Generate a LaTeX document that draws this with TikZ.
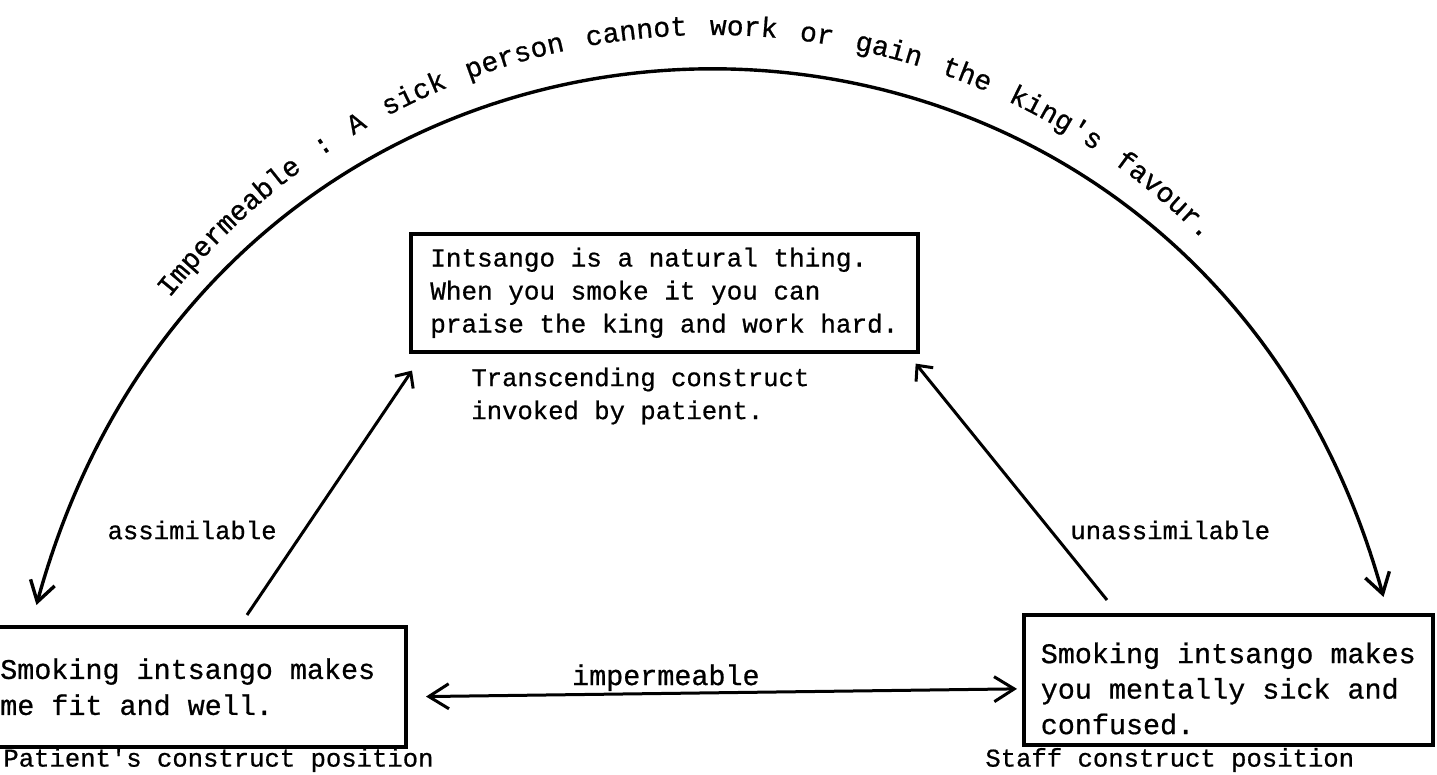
\documentclass[tikz,border=0pt]{standalone}
\usepackage{fontspec}
\usepackage{tikz}
\usetikzlibrary{arrows.meta, decorations.text}
\newfontfamily\typefont[FakeBold=0.7]{Liberation Mono}
\newcommand{\arcfont}{\typefont\fontsize{14}{16}\selectfont}

\begin{document}
\begin{tikzpicture}[x=0.5pt, y=-0.5pt,
            box/.style={draw, line width=1.8pt, rectangle, align=left, inner ysep=4pt},
            boxtext/.style={font=\typefont\fontsize{14.2}{#1}\selectfont},
            lbl/.style={inner sep=0pt, align=left, font=\typefont\fontsize{12.8}{16.5}\selectfont},
            link/.style={line width=1.5pt, -{Straight Barb[length=6pt, width=11pt]}},
            barb/.style={line width=1.7pt, {Straight Barb[length=10pt, width=12.5pt]}-{Straight Barb[length=10pt, width=12.5pt]}}]
    \useasboundingbox (0,0) rectangle (1437,775);

    % the three construct boxes
    \node[box, anchor=north west, minimum height=59pt, inner xsep=9.75pt,
          font=\typefont\fontsize{13}{16.5}\selectfont] (natural) at (409,232)
          {Intsango is a natural thing.\\When you smoke it you can\\praise the king and work hard.};
    \node[box, boxtext=18, anchor=north east, minimum height=60pt, inner xsep=15.5pt] (patient) at (408,625)
          {Smoking intsango makes\\me fit and well.};
    \node[box, boxtext=17.75, anchor=north west, minimum height=65pt, inner xsep=8.5pt] (staff) at (1022,613)
          {\rule{0pt}{19pt}Smoking intsango makes\\you mentally sick and\\confused.};

    % captions
    \node[lbl, anchor=west] (transc) at (471,396) {Transcending construct\\invoked by patient.};
    \node[lbl, anchor=west] (patlbl) at (3,760) {Patient's construct position};
    \node[lbl, anchor=west] (stafflbl) at (985,760) {Staff construct position};
    \node[lbl, anchor=east] (assim) at (277,530) {assimilable};
    \node[lbl, anchor=west] (unassim) at (1070,530) {unassimilable};

    \draw[link] ([xshift=-80.5pt, yshift=5pt]patient.north east) -- ([xshift=1.5pt, yshift=-8.5pt]natural.south west);
    \draw[link] ([xshift=42.5pt, yshift=6.5pt]staff.north west) -- ([xshift=-2pt, yshift=-5pt]natural.south east);
    \draw[barb, line width=1.5pt, shorten <=9pt, shorten >=2.5pt]
        ([yshift=-5pt]patient.east) -- node[boxtext=16, pos=0.42, above, inner sep=0.5pt] (imperm) {impermeable}
        ([yshift=-4.5pt]staff.west);

    % big arch over everything
    \draw[barb] ([xshift=34.5pt, yshift=10pt]patient.north west)
        .. controls (232,-107) and (1188,-107) .. ([xshift=-25.5pt, yshift=8pt]staff.north east);
    \path[decorate, decoration={text along path,
            text={|\arcfont|Impermeable : A sick person cannot work or gain the king's favour.},
            text align={left indent=172pt, right indent=207pt, fit to path stretching spaces}}]
        (20,605) .. controls (217.7,-153.7) and (1202.3,-153.7) .. (1400,596.8);
\end{tikzpicture}
\end{document}
